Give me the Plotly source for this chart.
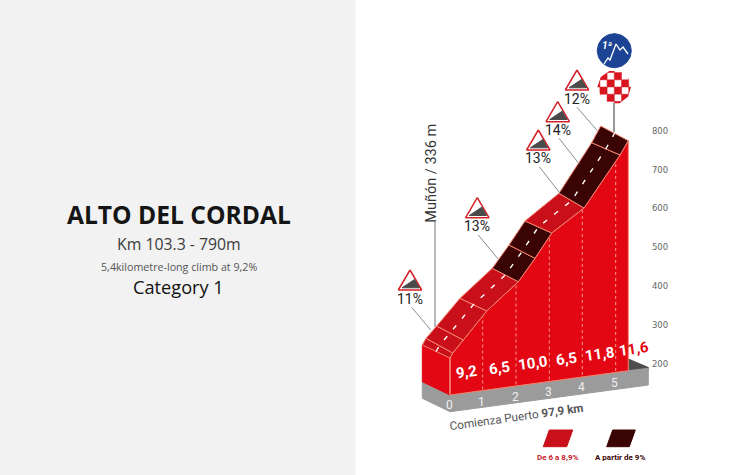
# -*- coding: utf-8 -*-

import numpy as np
import plotly.graph_objects as go


# perfil: borde de atras y borde de delante de la carretera (posicion en la imagen)
Atras = [(422.3,345),(426,338.3),(436.7,326),(460,298.3),(492.3,268.3),(509,245),(525,221),(559,193.3),(591.7,142.7),(600.7,126)]
Delante = [(450,358),(452.7,353),(463.3,340),(486.7,311),(518.3,281.7),(535,258.3),(551.7,233),(584,208),(620,155),(628.3,140.7)]
Tramo = ['r','r','r','r','d','d','r','d','d']

KmX = [450,482.7,516,549.3,582.3,615.7]
KmY = [394,389.5,384.5,379.5,375,371]
KmText = ['0','1','2','3','4','5']

Pendiente = ['9,2','6,5','10,0','6,5','11,8','<span style="color:white">1</span>1,6']
PendX = [466.3,499.7,533.3,566,600,633.5]
PendY = [372,367.7,362.7,358.7,354,349]

Altura = [800,700,600,500,400,300,200]
AlturaY = [132,171,209,248,287,326,365]

# triangulos: x del vertice, y del vertice, texto, y del texto, inicio y final de la flecha
Aviso = [(577,70,'12%',99,(577,107.3),(597.3,130.7)),
         (557.7,101.7,'14%',129.7,(559,138.3),(579.3,164)),
         (538.3,130,'13%',158,(539.3,166.7),(560,193.3)),
         (477.3,197.7,'13%',225.7,(478.3,235),(498.3,259.3)),
         (410,270,'11%',299,(411.7,307.3),(430.7,330))]

ROJO = '#e30613'
ROJO2 = '#c9101a'
OSCURO = '#3a0404'

fig = go.Figure()


def poligono(puntos, color, linea=None, ancho=1):
    xs = [p[0] for p in puntos] + [puntos[0][0]]
    ys = [p[1] for p in puntos] + [puntos[0][1]]
    fig.add_trace(go.Scatter(x=xs, y=ys, mode='lines', fill='toself', fillcolor=color,
                             line=dict(color=linea if linea else color, width=ancho)))


def raya(puntos, color, ancho=1, dash='solid'):
    fig.add_trace(go.Scatter(x=[p[0] for p in puntos], y=[p[1] for p in puntos], mode='lines',
                             line=dict(color=color, width=ancho, dash=dash)))


def texto(x, y, s, size, color, angulo=0, familia='Roboto'):
    fig.add_annotation(x=x, y=y, text=s, showarrow=False, textangle=angulo,
                       font=dict(size=size, color=color, family=familia))


# panel de la izquierda
poligono([(0,0),(355,0),(355,475),(0,475)], '#f2f2f2')
texto(178.5, 214, '<b>ALTO DEL CORDAL</b>', 24.6, '#151515', familia='Open Sans')
texto(178.5, 244, 'Km 103.3 - 790m', 15.8, '#3c3c3c', familia='Open Sans')
texto(178.5, 267, '5,4kilometre-long climb at 9,2%', 10.7, '#555555', familia='Open Sans')
texto(178.5, 287, 'Category 1', 18.2, '#111111', familia='Open Sans')

# meta, antes que lo demas porque el aro blanco tapa las esquinas
t = np.linspace(0, 2*np.pi, 80)
poligono(list(zip(614.3+17*np.cos(t), 87+17*np.sin(t))), 'white')
for i in range(-3, 3):
    for j in range(-3, 3):
        if (i + j) % 2 == 0:
            cx = 614.3 + i*7.2
            cy = 87 + j*7.2
            poligono([(cx,cy),(cx+7.2,cy),(cx+7.2,cy+7.2),(cx,cy+7.2)], '#d8141f', ancho=0.5)
raya(list(zip(614.3+25*np.cos(t), 87+25*np.sin(t))), 'white', 16)
raya([(614,103),(614,131.7)], '#777777', 1.5)
poligono(list(zip(614.3+17*np.cos(t), 50.7+17*np.sin(t))), '#1d4494')
raya([(604,64),(608,58),(610,60),(616,44),(620,50),(623,47),(628,54)], 'white', 1.3)
texto(607.5, 45, '<i><b>1ª</b></i>', 10, 'white')

# base gris
poligono([(628.3,370.7),(628.3,359),(648.3,367.5),(648.3,369)], '#4d4d4d')
poligono([(422.3,381.7),(422.3,398.3),(450,411.7),(648.3,385),(648.3,368.3),(628.3,370.7),(450,395)], '#9b9b9b')

# cara de delante y lateral
poligono([(422.3,345),(450,358),(450,395),(422.3,381.7)], ROJO)
poligono(Delante + [(628.3,370.7),(450,395)], ROJO, '#f4836f', 1)

for i in range(1, len(KmX)):
    raya([(KmX[i], KmY[i]), (KmX[i], np.interp(KmX[i], [p[0] for p in Delante], [p[1] for p in Delante]))],
         '#f79a8c', 1, '3px,3px')
raya([(450,358),(450,394)], '#f79a8c', 1)

# carretera
for i, tipo in enumerate(Tramo):
    poligono([Atras[i], Atras[i+1], Delante[i+1], Delante[i]], OSCURO if tipo == 'd' else ROJO2, '#f4836f', 1)

Centro = [((a[0]+d[0])/2, (a[1]+d[1])/2) for a, d in zip(Atras, Delante)]
raya(Centro, 'white', 1.4, '5px,9px')

# numeros
for x, y, s in zip(KmX, KmY, KmText):
    texto(x-1, y+(11 if s == '0' else 12), s, 12, '#f0f0f0')
for x, y, s in zip(PendX, PendY, Pendiente):
    texto(x, y, '<b>' + s + '</b>', 15, 'white' if s != Pendiente[-1] else ROJO, -8)

fig.add_trace(go.Scatter(x=[660]*len(Altura), y=AlturaY, mode='text', text=[str(a) for a in Altura],
                         textfont=dict(size=8.5, color='#666666', family='DejaVu Sans')))

texto(516, 416.5, 'Comienza Puerto <b>97,9 km</b>', 11.7, '#555555', -8)

# Muñon
raya([(435,221.7),(435,327)], '#8c8c8c', 1.2)
texto(430.7, 173, 'Muñón / 336 m', 14.5, '#333333', -90)

# avisos de pendiente
for x, y, s, ty, ini, fin in Aviso:
    poligono([(x,y),(x+11.7,y+20),(x-11.7,y+20)], 'white', '#d2232a', 1.5)
    poligono([(x-8,y+17.8),(x+9.3,y+17.8),(x+4.5,y+9.5)], '#4a4a4a')
    texto(x, ty, s, 14, '#222222')
    raya([ini, fin], '#8c8c8c', 1)

# leyenda
poligono([(543.3,446.7),(549.3,430),(572.7,430),(566.7,446.7)], ROJO2)
poligono([(606.7,446.7),(612.7,430),(635.3,430),(629.3,446.7)], OSCURO)
texto(557.7, 457.7, '<b>De 6 a 8,9%</b>', 8, '#c9202a')
texto(620, 457.7, '<b>A partir de 9%</b>', 8, OSCURO)

fig.update_traces(showlegend=False, hoverinfo='skip')
fig.update_xaxes(range=[0,736], visible=False)
fig.update_yaxes(range=[475,0], visible=False)
fig.update_layout(width=736, height=475, margin=dict(l=0,r=0,t=0,b=0),
                  plot_bgcolor='white', paper_bgcolor='white')

fig.write_html("out.html", config=dict(displayModeBar=False),
               post_script="document.body.style.margin='0';document.documentElement.style.overflow='hidden';")
